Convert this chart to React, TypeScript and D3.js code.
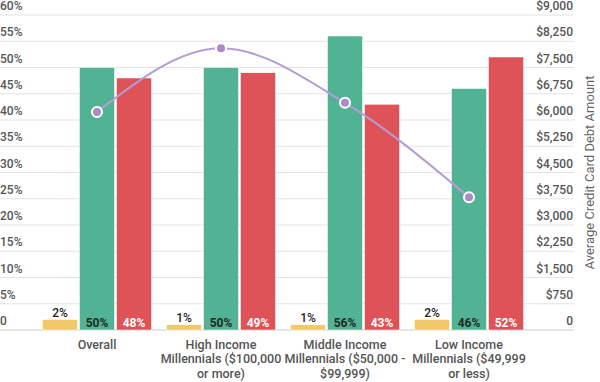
import React from "react";
import * as d3 from "d3";

const categories = [
  ["Overall"],
  ["High Income", "Millennials ($100,000", "or more)"],
  ["Middle Income", "Millennials ($50,000 -", "$99,999)"],
  ["Low Income", "Millennials ($49,999", "or less)"],
];
const catKeys = ["overall", "high", "middle", "low"];
const seriesKeys = ["yellow", "green", "red"];
const yellowValues = [2, 1, 1, 2];
const greenValues = [50, 50, 56, 46];
const redValues = [48, 49, 43, 52];
const debtValues = [6230, 8050, 6490, 3790];
const leftTicks = [0, 5, 10, 15, 20, 25, 30, 35, 40, 45, 50, 55, 60];
const rightTicks = [0, 750, 1500, 2250, 3000, 3750, 4500, 5250, 6000, 6750, 7500, 8250, 9000];

const W = 600;
const H = 382;
const colors: Record<string, string> = { yellow: "#f1c96a", green: "#52b394", red: "#dd5357" };
const font = "Roboto, 'Noto Sans', sans-serif";

export default function App() {
  const top = 15;
  const bottom = 330;
  const x = d3.scaleBand().domain(catKeys).range([35, 531]).paddingInner(0).paddingOuter(0);
  const inner = d3
    .scaleBand()
    .domain(seriesKeys)
    .range([-54.5, 54.5])
    .paddingInner(2 / 37);
  const y = d3.scaleLinear().domain([0, 60]).range([bottom, top]);
  const y2 = d3.scaleLinear().domain([0, 9000]).range([bottom, top]);
  const values: Record<string, number[]> = { yellow: yellowValues, green: greenValues, red: redValues };
  const cx = (k: string) => (x(k) as number) + x.bandwidth() / 2;
  const pts: [number, number][] = debtValues.map((v, i) => [cx(catKeys[i]), y2(v)]);
  const line = d3.line().curve(d3.curveMonotoneX)(pts) as string;

  return (
    <svg
      width={W}
      height={H}
      style={{ position: "absolute", left: 0, top: 0, fontFamily: font }}
    >
      {leftTicks.map((t) => (
        <line
          key={"g" + t}
          x1={0}
          x2={574}
          y1={y(t)}
          y2={y(t)}
          stroke={t === 0 ? "#e6e6e6" : "#e3e3e3"}
          strokeWidth={t === 0 ? 2 : 1}
        />
      ))}
      {leftTicks.map((t) => (
        <text key={"l" + t} x={0} y={y(t) - 5} fontSize={12} fontWeight={500} fill="#555">
          {t === 0 ? "0" : t + "%"}
        </text>
      ))}
      {rightTicks.map((t) => (
        <text
          key={"r" + t}
          x={573}
          y={y2(t) - 5}
          fontSize={12}
          fontWeight={500}
          fill="#555"
          textAnchor="end"
        >
          {t === 0 ? "0" : d3.format("$,")(t)}
        </text>
      ))}
      <text
        transform={`translate(594,${(top + bottom) / 2}) rotate(-90)`}
        textAnchor="middle"
        fontSize={13}
        fill="#666"
      >
        Average Credit Card Debt Amount
      </text>
      {catKeys.map((k, i) => (
        <g key={k}>
          {seriesKeys.map((s) => {
            const v = values[s][i];
            const bx = cx(k) + (inner(s) as number);
            const bw = inner.bandwidth();
            return (
              <g key={s}>
                <rect
                  x={bx}
                  y={y(v)}
                  width={bw}
                  height={bottom - y(v)}
                  fill={colors[s]}
                  stroke="#ffffff"
                  strokeWidth={0.5}
                />
                {s === "yellow" ? (
                  <text
                    x={bx + bw / 2}
                    y={y(v) - 3}
                    textAnchor="middle"
                    fontSize={12}
                    fontWeight={500}
                    fill="#222"
                  >
                    {v + "%"}
                  </text>
                ) : (
                  <text
                    x={bx + bw / 2}
                    y={bottom - 3}
                    textAnchor="middle"
                    fontSize={12}
                    fontWeight={700}
                    fill={s === "green" ? "#1f2a24" : "#ffffff"}
                  >
                    {v + "%"}
                  </text>
                )}
              </g>
            );
          })}
          <text textAnchor="middle" fontSize={12.5} fontWeight={500} fill="#555">
            {categories[i].map((ln, j) => (
              <tspan key={j} x={cx(k)} y={348.5 + j * 14.5}>
                {ln}
              </tspan>
            ))}
          </text>
        </g>
      ))}
      <path d={line} fill="none" stroke="#b39dd6" strokeWidth={2} />
      {pts.map((p, i) => (
        <circle key={"p" + i} cx={p[0]} cy={p[1]} r={5} fill="#a98bc9" stroke="#ffffff" strokeWidth={2} />
      ))}
    </svg>
  );
}
